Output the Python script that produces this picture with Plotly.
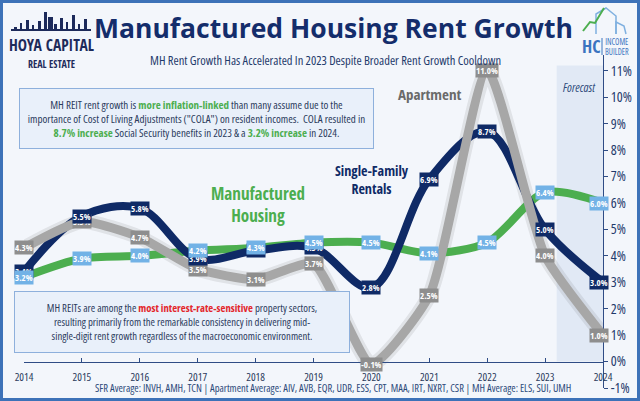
import plotly.graph_objects as go

# ---------------- data ----------------
years = [2014, 2015, 2016, 2017, 2018, 2019, 2020, 2021, 2022, 2023, 2024]
sfr = [3.4, 5.5, 5.8, 3.9, 4.2, 4.3, 2.8, 6.9, 8.7, 5.0, 3.0]
apartment = [4.3, 5.3, 4.7, 3.5, 3.1, 3.7, -0.1, 2.5, 11.0, 4.0, 1.0]
mh = [3.2, 3.9, 4.0, 4.2, 4.3, 4.5, 4.5, 4.1, 4.5, 6.4, 6.0]
y_ticks = list(range(-1, 12))
forecast_start = 2023.2

# ---------------- styling ----------------
W, H = 640, 401
L, R, T, B = 24, 603, 55, 388
NAVY = "#0f2a66"
GRAY = "#a7a7a7"
GREEN = "#4cae4f"
TXT = "#2b3b5c"
BG = "#f3f6fb"
OS = "Open Sans, sans-serif"
OSC = "Open Sans Condensed, Open Sans, sans-serif"


def px(xp):
    return (xp - L) / (R - L)


def py(yp):
    return (B - yp) / (B - T)


def cond(text, stretch="condensed"):
    return "<br>".join(f"<span style='font-stretch:{stretch}'>{ln}</span>" for ln in text.split("<br>"))


def pann(xp, yp, text, font, **kw):
    d = dict(xref="paper", yref="paper", x=px(xp), y=py(yp), text=text, showarrow=False,
             xanchor="center", yanchor="middle", font=font)
    d.update(kw)
    return d


fig = go.Figure()

# soft shadow under gray line
fig.add_trace(go.Scatter(x=years, y=apartment, mode="lines",
                         line=dict(color="rgba(60,60,60,0.10)", width=15, shape="spline", smoothing=0.55),
                         hoverinfo="skip", showlegend=False))
fig.add_trace(go.Scatter(x=years, y=mh, mode="lines",
                         line=dict(color=GREEN, width=8, shape="spline", smoothing=0.8),
                         showlegend=False, name="MH"))
fig.add_trace(go.Scatter(x=years, y=sfr, mode="lines",
                         line=dict(color=NAVY, width=8, shape="spline", smoothing=1),
                         showlegend=False, name="SFR"))
fig.add_trace(go.Scatter(x=years, y=apartment, mode="lines",
                         line=dict(color=GRAY, width=9, shape="spline", smoothing=0.55),
                         showlegend=False, name="Apartment"))

ann = []


def label(x, y, bg, xs=0, ys=0):
    ann.append(dict(x=x, y=y, xref="x", yref="y", text=f"{y:.1f}%", showarrow=False,
                    xanchor="center", yanchor="middle",
                    font=dict(family=OSC, size=9, color="white"),
                    bgcolor=bg, borderpad=0, xshift=xs, yshift=ys))


for i, yr in enumerate(years):
    xs = -4 if yr == 2024 else 0
    label(yr, apartment[i], "#8e8e8e", xs)
    label(yr, sfr[i], NAVY, xs)
    label(yr, mh[i], "#72b2e6", xs)

# Forecast shading + frame
shapes = [
    dict(type="rect", xref="x", yref="y", x0=forecast_start, x1=2024, y0=0, y1=11.2,
         fillcolor="#e1e9f5", line=dict(width=0), layer="below"),
    dict(type="rect", xref="paper", yref="paper", x0=px(1.5), x1=px(638.5), y0=py(1.5), y1=py(399.5),
         line=dict(color="#3d72b8", width=3), fillcolor="rgba(0,0,0,0)", layer="above"),
]

box1 = ("MH REIT rent growth is <b><span style='color:#4cae4f'>more inflation-linked</span></b> than many assume due to the<br>"
        "importance of Cost of Living Adjustments (\"COLA\") on resident incomes.  COLA resulted in<br>"
        "<b><span style='color:#4cae4f'>8.7% increase</span></b> Social Security benefits in 2023 &amp; a "
        "<b><span style='color:#4cae4f'>3.2% increase</span></b> in 2024.")
box2 = ("MH REITs are among the <b><span style='color:#e3262b'>most interest-rate-sensitive</span></b> property sectors,<br>"
        "resulting primarily from the remarkable consistency in delivering mid-<br>"
        "single-digit rent growth regardless of the macroeconomic environment.")

ann += [
    pann(333, 28, "<b>Manufactured Housing Rent Growth</b>", dict(family=OS, size=26.5, color="#142d6b")),
    pann(325, 60, cond("MH Rent Growth Has Accelerated In 2023 Despite Broader Rent Growth Cooldown"),
         dict(family=OS, size=12.5, color="#1f3a6b")),
    pann(196.5, 118.5, cond(box1), dict(family=OS, size=11, color=TXT), width=351, height=57,
         align="center", bgcolor="#e9f0fa", bordercolor="#8eb0dc", borderwidth=1),
    pann(182, 322, cond(box2), dict(family=OS, size=10.7, color=TXT), width=332, height=58,
         align="center", bgcolor="#e9f0fa", bordercolor="#8eb0dc", borderwidth=1),
    pann(258, 204, "Manufactured<br>Housing", dict(family=OSC, size=17, color=GREEN)),
    pann(372, 179, "Single-Family<br>Rentals", dict(family=OSC, size=14, color=NAVY)),
    pann(430, 94, "Apartment", dict(family=OSC, size=15, color="#6a6a6a")),
    pann(579, 87, "<i>" + cond("Forecast") + "</i>", dict(family=OS, size=12, color="#2d4a7a")),
    pann(333, 388, cond("SFR Average: INVH, AMH, TCN | Apartment Average: AIV, AVB, EQR, UDR, ESS, CPT, MAA, IRT, NXRT, CSR | MH Average: ELS, SUI, UMH"),
         dict(family=OS, size=10.5, color="#2d4a7a")),
    # left logo
    pann(51, 45, "HOYA CAPITAL", dict(family=OSC, size=15.5, color="#1d2a5a")),
    pann(51, 64, "REAL ESTATE", dict(family=OSC, size=10, color="#1d2a5a")),
    # right logo
    pann(591, 46, "HC", dict(family=OSC, size=18, color="#3b74c0")),
    pann(617, 46, cond("INCOME<br>BUILDER"), dict(family=OS, size=8, color="#3b74c0")),
]

# skyline for left logo
sky = [(14, 27, 3), (20, 23, 2), (26, 20, 3), (32, 25, 2), (38, 21, 3), (44, 12, 3), (48, 17, 5), (54, 24, 3),
       (60, 18, 3), (66, 22, 2), (72, 15, 3), (78, 24, 2), (84, 19, 3)]
for xx, top, w in sky:
    shapes.append(dict(type="rect", xref="paper", yref="paper", x0=px(xx), x1=px(xx + w), y0=py(30), y1=py(top),
                       fillcolor="#1d2a5a", line=dict(width=0)))
shapes.append(dict(type="line", xref="paper", yref="paper", x0=px(11), x1=px(91), y0=py(30), y1=py(30),
                   line=dict(color="#1d2a5a", width=2)))
# right logo building + arrow
shapes += [
    dict(type="path", xref="paper", yref="paper",
         path=f"M {px(596)},{py(34)} L {px(596)},{py(14)} L {px(606)},{py(8)} L {px(616)},{py(16)} L {px(616)},{py(34)}",
         line=dict(color="#7fb0e0", width=1.5)),
    dict(type="path", xref="paper", yref="paper",
         path=f"M {px(616)},{py(34)} L {px(616)},{py(22)} L {px(624)},{py(26)} L {px(626)},{py(34)}",
         line=dict(color="#7fb0e0", width=1.5)),
    dict(type="path", xref="paper", yref="paper",
         path=f"M {px(583)},{py(31)} L {px(590)},{py(22)} L {px(595)},{py(23)} L {px(604)},{py(8)}",
         line=dict(color="#4cae4f", width=2)),
    dict(type="line", xref="paper", yref="paper", x0=px(602), x1=px(602), y0=py(38), y1=py(55),
         line=dict(color="#3b74c0", width=1)),
]

fig.update_layout(
    width=W, height=H,
    margin=dict(l=L, r=W - R, t=T, b=H - B, autoexpand=False),
    paper_bgcolor=BG, plot_bgcolor=BG,
    showlegend=False,
    annotations=ann, shapes=shapes,
    xaxis=dict(range=[2014, 2024], tickvals=years, ticktext=[cond(str(y)) for y in years],
               showgrid=False, zeroline=False, showline=True, linecolor="#2f4c85", linewidth=1,
               ticks="inside", ticklen=4, tickcolor="#2f4c85", anchor="free", position=1 / 12.6,
               tickfont=dict(family=OS, size=11, color=TXT), ticklabelstandoff=5, automargin=False),
    yaxis=dict(range=[-1, 11.6], tickvals=y_ticks, ticktext=[cond(f"{v}%") for v in y_ticks],
               side="right", showgrid=False, zeroline=False, showline=True, linecolor="#2f4c85", linewidth=1,
               ticks="outside", ticklen=4, tickcolor="#2f4c85", automargin=False,
               tickfont=dict(family=OS, size=14, color="#1f3a6b")),
)

fig.write_html("out.html")
